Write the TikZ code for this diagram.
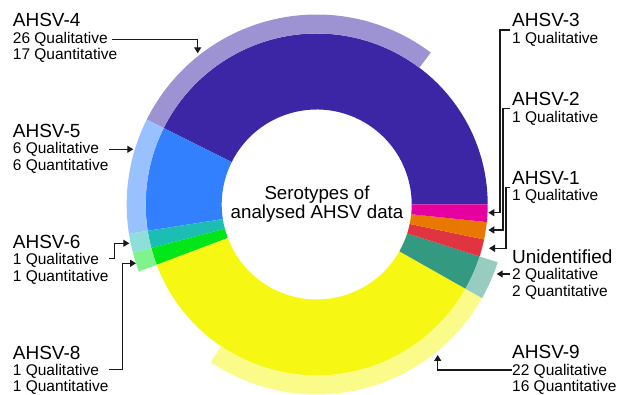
\documentclass[tikz,border=0pt]{standalone}
\usepackage{fontspec}
\setmainfont{Liberation Sans}
\usetikzlibrary{arrows.meta}

\definecolor{c4}{RGB}{60,38,165}
\definecolor{c5}{RGB}{51,128,255}
\definecolor{c6}{RGB}{28,190,180}
\definecolor{c8}{RGB}{0,230,25}
\definecolor{c9}{RGB}{247,247,20}
\definecolor{cu}{RGB}{51,153,128}
\definecolor{c1}{RGB}{224,52,64}
\definecolor{c2}{RGB}{232,120,0}
\definecolor{c3}{RGB}{230,0,160}
\colorlet{c4l}{c4!50}
\colorlet{c5l}{c5!50}
\colorlet{c6l}{c6!50}
\colorlet{c8l}{c8!50}
\colorlet{c9l}{c9!50}
\colorlet{cul}{cu!50}

\begin{document}
\begin{tikzpicture}
[x=1pt,y=1pt]
\tikzset{ttl/.style={anchor=base west,inner sep=0pt,font=\fontsize{19}{19}\selectfont}}
\tikzset{txt/.style={anchor=base west,inner sep=0pt,font=\fontsize{15.5}{15.5}\selectfont}}
\tikzset{conn/.style={draw=black!90,line width=1.3pt,-{Triangle[length=6pt,width=7pt]}}}
\useasboundingbox (0,0) rectangle (622,395);

% rings (one unit = one record, 61 records)
\begin{scope}[shift={(316.7,190.5)}]
\foreach \a/\b/\col [evaluate=\a as \sa using \a*5.90164, evaluate=\b as \sb using \b*5.90164] in {0/26/c4,26/32/c5,32/33/c6,33/34/c8,34/56/c9,56/58/cu,58/59/c1,59/60/c2,60/61/c3}
	\fill[\col] (\sa:171) arc (\sa:\sb:171) -- (\sb:95) arc (\sb:\sa:95) -- cycle;
\foreach \a/\b/\col [evaluate=\a as \sa using \a*5.90164, evaluate=\b as \sb using \b*5.90164] in {9/26/c4l,26/32/c5l,32/33/c6l,33/34/c8l,40/56/c9l,56/58/cul}
	\fill[\col] (\sa:190) arc (\sa:\sb:190) -- (\sb:171) arc (\sb:\sa:171) -- cycle;
\end{scope}

\node[align=center,inner sep=0pt,font=\fontsize{18.7}{19}\selectfont] (ctr) at (317,191) {Serotypes of\\analysed AHSV data};

% left labels
\node[ttl] (t4) at (12.7,368.3) {AHSV-4};
\node[txt] (q4) at (12.7,351.8) {26 Qualitative};
\node[txt] (n4) at (12.7,335.3) {17 Quantitative};
\node[ttl] (t5) at (12.7,257.7) {AHSV-5};
\node[txt] (q5) at (12.7,241.2) {6 Qualitative};
\node[txt] (n5) at (12.7,224.7) {6 Quantitative};
\node[ttl] (t6) at (12.7,146.7) {AHSV-6};
\node[txt] (q6) at (12.7,130.2) {1 Qualitative};
\node[txt] (n6) at (12.7,113.7) {1 Quantitative};
\node[ttl] (t8) at (12.7,35) {AHSV-8};
\node[txt] (q8) at (12.7,19) {1 Qualitative};
\node[txt] (n8) at (12.7,3) {1 Quantitative};

% right labels
\node[ttl] (t3) at (512,368.3) {AHSV-3};
\node[txt] (q3) at (512,351.8) {1 Qualitative};
\node[ttl] (t2) at (512,289) {AHSV-2};
\node[txt] (q2) at (512,272.5) {1 Qualitative};
\node[ttl] (t1) at (512,210.7) {AHSV-1};
\node[txt] (q1) at (512,194.2) {1 Qualitative};
\node[ttl] (tu) at (512,131.7) {Unidentified};
\node[txt] (qu) at (512,115.2) {2 Qualitative};
\node[txt] (nu) at (512,98.7) {2 Quantitative};
\node[ttl] (t9) at (512,36) {AHSV-9};
\node[txt] (q9) at (512,19.5) {22 Qualitative};
\node[txt] (n9) at (512,3) {16 Quantitative};

% arrow tips
\coordinate (a4) at (197.7,341.7);
\coordinate (a5) at (133.3,245.7);
\coordinate (a6) at (129.3,151.7);
\coordinate (a8) at (136,131.7);
\coordinate (a3) at (488.3,182.3);
\coordinate (a2) at (488.3,165);
\coordinate (a1) at (489,146.7);
\coordinate (au) at (496.7,121);
\coordinate (a9) at (437.7,40);

\draw[conn] ([xshift=4pt,yshift=4pt]q4.base east) -| (a4);
\draw[conn] ([xshift=10pt,yshift=4.5pt]q5.base east) -- (a5);
\draw[conn] ([xshift=9.5pt,yshift=6.5pt]q6.base east) -- ++(5.6,0) |- (a6);
\draw[conn] ([xshift=10pt,yshift=6.5pt]q8.base east) -- ++(13.4,0) |- (a8);
\draw[conn] ([xshift=-2pt,yshift=-3.3pt]t3.base west) -- ++(-10,0) |- (a3);
\draw[conn] ([xshift=-2pt,yshift=-2.3pt]t2.base west) -- ++(-7,0) |- (a2);
\draw[conn] ([xshift=-2pt,yshift=-3.2pt]t1.base west) -- ++(-4,0) |- (a1);
\draw[conn] ([xshift=-2pt,yshift=5.8pt]qu.base west) -- (au);
\draw[conn] ([xshift=-0.5pt,yshift=5.5pt]q9.base west) -| (a9);

\end{tikzpicture}
\end{document}
